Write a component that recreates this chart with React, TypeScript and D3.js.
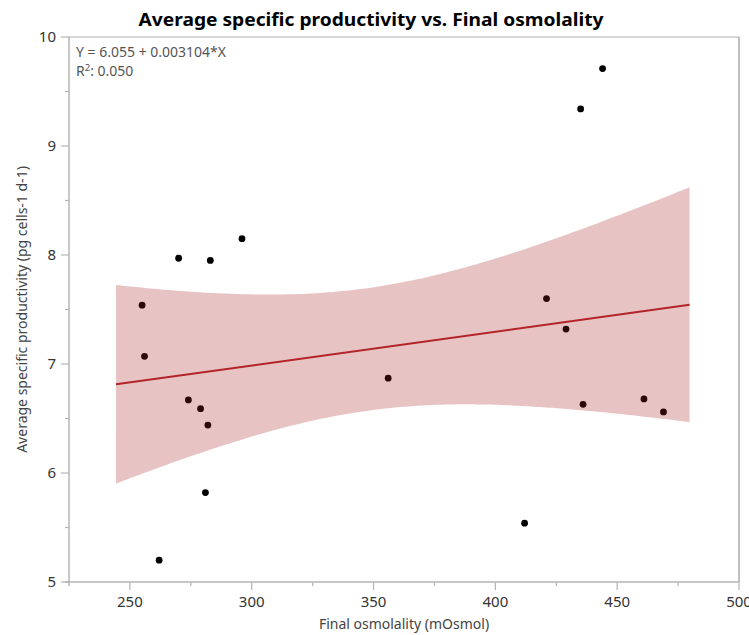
import React from "react";
import * as d3 from "d3";

// Final osmolality (mOsmol) per run
const osmolality = [255, 256, 262, 270, 274, 279, 281, 282, 283, 296, 356, 412, 421, 429, 435, 436, 444, 461, 469];
// Average specific productivity (pg cells-1 d-1) per run
const productivity = [7.54, 7.07, 5.2, 7.97, 6.67, 6.59, 5.82, 6.44, 7.95, 8.15, 6.87, 5.54, 7.6, 7.32, 9.34, 6.63, 9.71, 6.68, 6.56];

// Reported linear fit
const intercept = 6.055;
const slope = 0.003104;
const rSquared = "0.050";

const xTicks = [250, 300, 350, 400, 450, 500];
const xMinorTicks = [275, 325, 375, 425, 475];
const yTicks = [5, 6, 7, 8, 9, 10];
const yMinorTicks = [5.5, 6.5, 7.5, 8.5, 9.5];

const W = 749;
const H = 635;
const plot = { left: 69, right: 739, top: 37, bottom: 582 };

export default function App() {
  const x = d3.scaleLinear().domain([225, 500]).range([plot.left, plot.right]);
  const y = d3.scaleLinear().domain([5, 10]).range([plot.bottom, plot.top]);

  // Confidence band for the mean response
  const n = osmolality.length;
  const xMean = d3.mean(osmolality) as number;
  const sxx = d3.sum(osmolality, (v) => (v - xMean) ** 2);
  const sse = d3.sum(osmolality, (v, i) => (productivity[i] - (intercept + slope * v)) ** 2);
  const s = Math.sqrt(sse / (n - 2));
  const tCrit = 2.1098; // t(0.975, 17)
  const [xMin, xMax] = d3.extent(osmolality) as [number, number];
  const pad = (xMax - xMin) * 0.05;
  const fitDomain = [xMin - pad, xMax + pad];
  const samples = d3.range(0, 101).map((k) => fitDomain[0] + ((fitDomain[1] - fitDomain[0]) * k) / 100);
  const band = samples.map((v) => {
    const fit = intercept + slope * v;
    const half = tCrit * s * Math.sqrt(1 / n + (v - xMean) ** 2 / sxx);
    return { v, lo: fit - half, hi: fit + half };
  });
  const area = d3
    .area<{ v: number; lo: number; hi: number }>()
    .x((d) => x(d.v))
    .y0((d) => y(d.lo))
    .y1((d) => y(d.hi))
    .curve(d3.curveMonotoneX);
  const line = d3
    .line<number>()
    .x((v) => x(v))
    .y((v) => y(intercept + slope * v));

  const font = "'Noto Sans', 'Open Sans', sans-serif";
  const axisColor = "#b4b4b4";

  return (
    <div style={{ position: "fixed", left: 0, top: 0 }}>
      <svg width={W} height={H} style={{ display: "block", background: "#fff" }}>
        <text
          x={371}
          y={26}
          textAnchor="middle"
          fontFamily={font}
          fontWeight="bold"
          fontSize={18}
          textLength={465}
          lengthAdjust="spacingAndGlyphs"
          fill="#000"
        >
          Average specific productivity vs. Final osmolality
        </text>

        {/* frame */}
        <line x1={plot.left} x2={plot.right} y1={plot.top} y2={plot.top} stroke="#c8c8c8" strokeWidth={1.5} />
        <line x1={plot.right} x2={plot.right} y1={plot.top} y2={plot.bottom} stroke="#c0c0c0" strokeWidth={2} />

        {/* points */}
        {osmolality.map((v, i) => (
          <circle key={i} cx={x(v)} cy={y(productivity[i])} r={3.4} fill="#000" />
        ))}

        {/* confidence band drawn over the points */}
        <path d={area(band) || ""} fill="#aa1e1e" fillOpacity={0.265} />
        <path d={line(fitDomain) || ""} fill="none" stroke="#b32428" strokeWidth={2} />

        {/* axes */}
        <line x1={plot.left} x2={plot.left} y1={plot.top} y2={plot.bottom + 4} stroke={axisColor} strokeWidth={1.5} />
        <line x1={plot.left - 4} x2={plot.right} y1={plot.bottom} y2={plot.bottom} stroke={axisColor} strokeWidth={1.5} />
        {yTicks.map((t) => (
          <g key={t}>
            <line x1={plot.left - 8} x2={plot.left} y1={y(t)} y2={y(t)} stroke={axisColor} strokeWidth={1.2} />
            <text x={56} y={y(t)} dy="0.35em" textAnchor="end" fontFamily={font} fontSize={15} fill="#333">
              {t}
            </text>
          </g>
        ))}
        {yMinorTicks.map((t) => (
          <line key={t} x1={plot.left - 4} x2={plot.left} y1={y(t)} y2={y(t)} stroke={axisColor} strokeWidth={1.2} />
        ))}
        {xTicks.map((t) => (
          <g key={t}>
            <line x1={x(t)} x2={x(t)} y1={plot.bottom} y2={plot.bottom + 8} stroke={axisColor} strokeWidth={1.2} />
            <text x={x(t)} y={607} textAnchor="middle" fontFamily={font} fontSize={15} fill="#333">
              {t}
            </text>
          </g>
        ))}
        {xMinorTicks.map((t) => (
          <line key={t} x1={x(t)} x2={x(t)} y1={plot.bottom} y2={plot.bottom + 4} stroke={axisColor} strokeWidth={1.2} />
        ))}

        {/* axis titles */}
        <text x={(plot.left + plot.right) / 2} y={629} textAnchor="middle" fontFamily={font} fontSize={14} fill="#444">
          Final osmolality (mOsmol)
        </text>
        <text
          transform={`translate(27, ${(plot.top + plot.bottom) / 2}) rotate(-90)`}
          textAnchor="middle"
          fontFamily={font}
          fontSize={14}
          fill="#444"
        >
          Average specific productivity (pg cells-1 d-1)
        </text>

        {/* fit equation */}
        <text x={76} y={57} fontFamily={font} fontSize={14} fill="#555">
          {`Y = ${intercept} + ${slope}*X`}
        </text>
        <text x={76} y={76} fontFamily={font} fontSize={14} fill="#555">
          R<tspan dy={-5} fontSize={9.5}>2</tspan>
          <tspan dy={5}>{`: ${rSquared}`}</tspan>
        </text>
      </svg>
    </div>
  );
}
